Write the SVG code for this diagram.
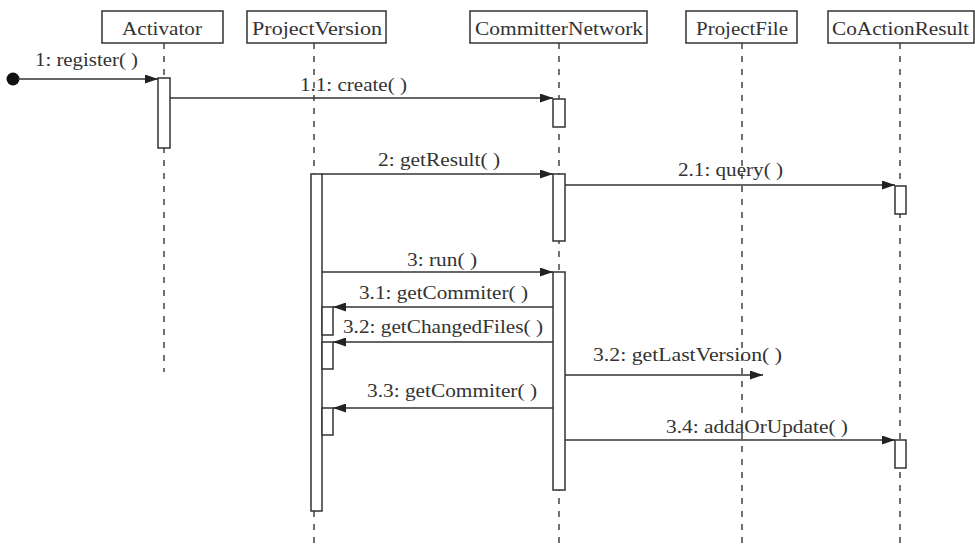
<svg xmlns="http://www.w3.org/2000/svg" width="975" height="548" viewBox="0 0 975 548" font-family="Liberation Serif, DejaVu Serif, serif">
<style>
.box{fill:#fff;stroke:#333;stroke-width:1.5}
.life{stroke:#444;stroke-width:1.5;stroke-dasharray:6 7;fill:none}
.act{fill:#fff;stroke:#333;stroke-width:1.5}
.msg{stroke:#333;stroke-width:1.5;fill:none;marker-end:url(#arr)}
.hd{font-size:19px;fill:#333}
.lb{font-size:18px;fill:#333}
</style>
<defs>
<marker id="arr" viewBox="0 0 13 9" refX="13" refY="4.5" markerWidth="13" markerHeight="9" markerUnits="userSpaceOnUse" orient="auto">
<path d="M0,0 L13,4.5 L0,9 Z" fill="#222"/>
</marker>
</defs>
<rect width="975" height="548" fill="#fff"/>
<g id="lifelines">
<line class="life" x1="164" y1="43" x2="164" y2="372"/>
<line class="life" x1="314" y1="43" x2="314" y2="548"/>
<line class="life" x1="559" y1="43" x2="559" y2="548"/>
<line class="life" x1="742" y1="43" x2="742" y2="548"/>
<line class="life" x1="900" y1="43" x2="900" y2="548"/>
</g>
<g id="Activator">
<rect class="box" x="102" y="11" width="121" height="32"/>
<text class="hd" x="122" y="35" textLength="80" lengthAdjust="spacingAndGlyphs">Activator</text>
<rect class="act" x="158" y="78" width="12" height="70"/>
</g>
<g id="ProjectVersion">
<rect class="box" x="247" y="11" width="139" height="32"/>
<text class="hd" x="252" y="35" textLength="130" lengthAdjust="spacingAndGlyphs">ProjectVersion</text>
<rect class="act" x="311" y="174" width="11" height="337"/>
<rect class="act" x="322" y="307" width="11" height="28"/>
<rect class="act" x="322" y="342" width="11" height="27"/>
<rect class="act" x="322" y="408" width="11" height="27"/>
</g>
<g id="CommitterNetwork">
<rect class="box" x="470" y="11" width="177" height="32"/>
<text class="hd" x="475" y="35" textLength="168" lengthAdjust="spacingAndGlyphs">CommitterNetwork</text>
<rect class="act" x="553" y="99" width="12" height="28"/>
<rect class="act" x="553" y="174" width="12" height="67"/>
<rect class="act" x="553" y="272" width="12" height="218"/>
</g>
<g id="ProjectFile">
<rect class="box" x="686" y="11" width="111" height="32"/>
<text class="hd" x="696" y="35" textLength="92" lengthAdjust="spacingAndGlyphs">ProjectFile</text>
</g>
<g id="CoActionResult">
<rect class="box" x="828" y="11" width="146" height="32"/>
<text class="hd" x="832" y="35" textLength="137" lengthAdjust="spacingAndGlyphs">CoActionResult</text>
<rect class="act" x="895" y="186" width="11" height="28"/>
<rect class="act" x="895" y="440" width="11" height="28"/>
</g>
<g id="connectors">
<circle cx="13" cy="79" r="6.5" fill="#111"/>
<line class="msg" x1="18" y1="79" x2="158" y2="79"/>
<text class="lb" x="35" y="66" textLength="103" lengthAdjust="spacingAndGlyphs">1: register( )</text>
<line class="msg" x1="170" y1="98" x2="553" y2="98"/>
<text class="lb" x="300" y="91" textLength="107" lengthAdjust="spacingAndGlyphs">1.1: create( )</text>
<line class="msg" x1="322" y1="174" x2="553" y2="174"/>
<text class="lb" x="378" y="166" textLength="122" lengthAdjust="spacingAndGlyphs">2: getResult( )</text>
<line class="msg" x1="565" y1="185" x2="895" y2="185"/>
<text class="lb" x="678" y="176" textLength="105" lengthAdjust="spacingAndGlyphs">2.1: query( )</text>
<line class="msg" x1="322" y1="272" x2="553" y2="272"/>
<text class="lb" x="407" y="266" textLength="70" lengthAdjust="spacingAndGlyphs">3: run( )</text>
<line class="msg" x1="553" y1="307" x2="333" y2="307"/>
<text class="lb" x="359" y="299" textLength="169" lengthAdjust="spacingAndGlyphs">3.1: getCommiter( )</text>
<line class="msg" x1="553" y1="342" x2="333" y2="342"/>
<text class="lb" x="343" y="333" textLength="200" lengthAdjust="spacingAndGlyphs">3.2: getChangedFiles( )</text>
<line class="msg" x1="565" y1="375" x2="763" y2="375"/>
<text class="lb" x="593" y="361" textLength="189" lengthAdjust="spacingAndGlyphs">3.2: getLastVersion( )</text>
<line class="msg" x1="553" y1="408" x2="333" y2="408"/>
<text class="lb" x="367" y="397" textLength="170" lengthAdjust="spacingAndGlyphs">3.3: getCommiter( )</text>
<line class="msg" x1="565" y1="440" x2="895" y2="440"/>
<text class="lb" x="666" y="433" textLength="182" lengthAdjust="spacingAndGlyphs">3.4: addaOrUpdate( )</text>
</g>
</svg>
